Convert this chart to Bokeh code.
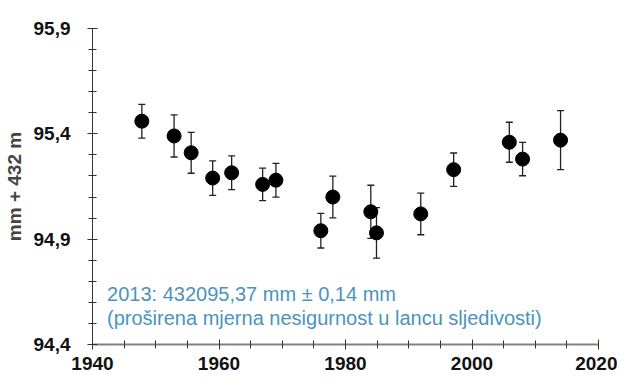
from bokeh.plotting import figure
from bokeh.models import ColumnDataSource, Whisker, TeeHead, Label, FixedTicker
from bokeh.embed import file_html
from bokeh.resources import INLINE

years = [1947.8, 1952.9, 1955.6, 1959.0, 1962.0, 1966.9, 1969.0, 1976.1, 1978.0,
         1984.0, 1984.9, 1991.9, 1997.1, 2005.9, 2008.0, 2014.0]
values = [95.46, 95.39, 95.31, 95.19, 95.215, 95.16, 95.18, 94.94, 95.10,
          95.03, 94.93, 95.02, 95.23, 95.36, 95.28, 95.37]
uncert = [0.08, 0.10, 0.097, 0.082, 0.08, 0.077, 0.08, 0.082, 0.099,
          0.126, 0.12, 0.099, 0.079, 0.095, 0.079, 0.14]
y_ticks = [94.4, 94.9, 95.4, 95.9]
x_ticks = [1940, 1960, 1980, 2000, 2020]
note1 = "2013: 432095,37 mm \u00b1 0,14 mm"
note2 = "(pro\u0161irena mjerna nesigurnost u lancu sljedivosti)"

lower = [v - u for v, u in zip(values, uncert)]
upper = [v + u for v, u in zip(values, uncert)]
src = ColumnDataSource(dict(x=years, y=values, lo=lower, hi=upper))

p = figure(frame_width=506, frame_height=316, x_range=(1940, 2020), y_range=(94.4, 95.9),
           output_backend="svg", toolbar_location=None,
           min_border_left=92, min_border_top=28, min_border_right=19, min_border_bottom=38)
p.outline_line_color = None
p.grid.visible = False
p.background_fill_color = "white"

w = Whisker(source=src, base="x", lower="lo", upper="hi", line_color="#222222", line_width=1.3,
            upper_head=TeeHead(size=7, line_color="#222222", line_width=1.3),
            lower_head=TeeHead(size=7, line_color="#222222", line_width=1.3))
p.add_layout(w)
p.scatter("x", "y", source=src, size=14, color="black")

for ax in (p.xaxis[0], p.yaxis[0]):
    ax.major_label_text_font = "Liberation Sans"
    ax.major_label_text_font_style = "bold"
    ax.major_label_text_font_size = "19px"
    ax.major_label_text_color = "#111111"
    ax.major_tick_in = 5
    ax.major_tick_out = 5
    ax.minor_tick_in = 4
    ax.minor_tick_out = 4
    ax.major_tick_line_color = "#333333"
    ax.minor_tick_line_color = "#333333"

p.yaxis.ticker = FixedTicker(ticks=y_ticks, minor_ticks=[round(94.4 + 0.1 * i, 1) for i in range(16)])
p.xaxis.ticker = FixedTicker(ticks=x_ticks, minor_ticks=list(range(1940, 2021, 5)))
p.yaxis.major_label_overrides = {t: f"{t:.1f}".replace(".", ",") for t in y_ticks}
p.yaxis.axis_line_color = "#333333"
p.xaxis.axis_line_color = "#8a8070"
p.xaxis.axis_line_width = 2
p.xaxis.major_label_standoff = 7
p.yaxis.major_label_standoff = 17
p.yaxis.axis_label = "mm + 432 m"
p.yaxis.axis_label_text_font = "Liberation Sans"
p.yaxis.axis_label_text_font_style = "bold"
p.yaxis.axis_label_text_font_size = "19px"
p.yaxis.axis_label_standoff = 6

for txt, yv in ((note1, 94.638), (note2, 94.524)):
    p.add_layout(Label(x=1942.3, y=yv, text=txt, text_color="#4a94bd", text_font="Liberation Sans",
                       text_font_size="20px", text_baseline="middle"))

open("out.html", "w").write(file_html(p, INLINE))
